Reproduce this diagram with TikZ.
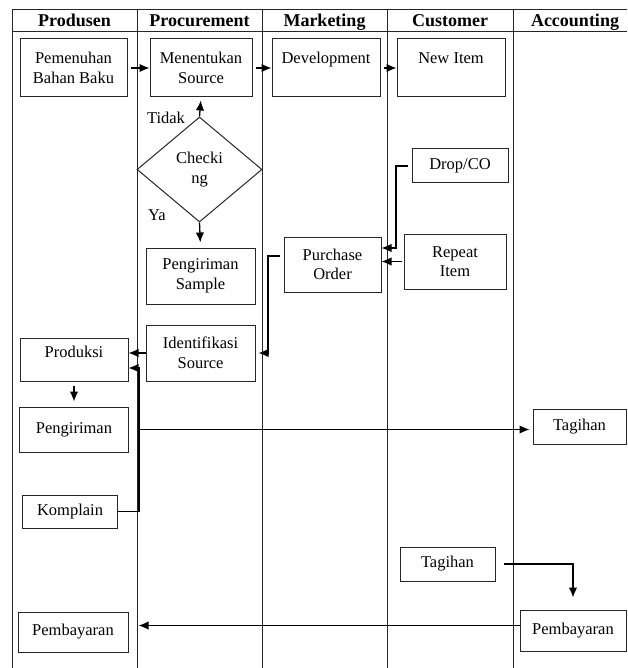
\documentclass[tikz,border=0pt]{standalone}
\usepackage{fontspec}
\setmainfont{Liberation Serif}
\usetikzlibrary{arrows.meta,shapes.geometric}
\newcommand\bodyfnt{\fontsize{16.5}{19.5}\selectfont}
\newcommand\headfnt{\fontsize{18}{20}\selectfont\bfseries}
\begin{document}
\begin{tikzpicture}[x=1pt,y=-1pt,
  lane/.style={draw=black!85, line width=0.9pt},
  pbox/.style 2 args={draw=black!85, line width=1pt, rectangle, inner sep=1pt,
     align=center, font=\bodyfnt, minimum width=#1, minimum height=#2},
  hdr/.style={font=\headfnt, inner sep=0pt, anchor=base},
  lbl/.style={font=\bodyfnt, inner sep=0pt},
  arr/.style={draw=black, line width=1.3pt, -{Latex[length=10pt,width=8.5pt]}}]
\useasboundingbox (0,0) rectangle (627,668);
% swimlane frame
\draw[lane] (12,9) -- (627,9);
\draw[lane] (12,31) -- (627,31);
\foreach \xx in {12,137,262,387,513} {\draw[lane] (\xx,9) -- (\xx,668);}
% headers
\node[hdr] (h1) at (74.5,26.5) {Produsen};
\node[hdr] (h2) at (199.5,26.5) {Procurement};
\node[hdr] (h3) at (324.5,26.5) {Marketing};
\node[hdr] (h4) at (450,26.5) {Customer};
\node[hdr] (h5) at (575,26.5) {Accounting};
% boxes
\node[pbox={107pt}{58pt}] (pem) at (73.5,68) {Pemenuhan\\Bahan Baku};
\node[pbox={102pt}{58pt}] (men) at (201,68) {Menentukan\\Source};
\node[pbox={108pt}{58pt}] (dev) at (326,68) {Development\\\mbox{}};
\node[pbox={108pt}{58pt}] (new) at (451,68) {New Item\\\mbox{}};
\node[draw=black!85, line width=1pt, diamond, minimum width=125pt, minimum height=105pt,
      inner sep=0pt, align=center, font=\bodyfnt] (chk) at (199.5,169.5) {Checki\\ng};
\node[lbl] (tidak) at (166,118) {Tidak};
\node[lbl] (ya) at (157,215) {Ya};
\node[pbox={109pt}{56pt}] (ps) at (200.5,276) {Pengiriman\\Sample};
\node[pbox={96pt}{34pt}] (drop) at (460,166) {Drop/CO};
\node[pbox={97pt}{55pt}] (po) at (332.5,264.5) {Purchase\\Order};
\node[pbox={102pt}{55pt}] (rep) at (455,261.5) {Repeat\\Item};
\node[pbox={109pt}{56pt}] (ids) at (200.5,353) {Identifikasi\\Source};
\node[pbox={108pt}{43pt}, text depth=15pt] (prod) at (74,359.5) {Produksi};
\node[pbox={109pt}{45pt}] (peng) at (74,429.5) {Pengiriman};
\node[pbox={93pt}{35pt}] (tag1) at (579.5,426.5) {Tagihan};
\node[pbox={95pt}{33pt}] (komp) at (70,511.5) {Komplain};
\node[pbox={95pt}{34pt}] (tag2) at (447.5,564) {Tagihan};
\node[pbox={110pt}{40pt}] (pay1) at (73,632) {Pembayaran};
\node[pbox={106pt}{41pt}] (pay2) at (573,630.5) {Pembayaran};
% connectors
\draw[arr, shorten <=3pt] (pem.east) -- (men.west);
\draw[arr, shorten <=3pt] (men.east) -- (dev.west);
\draw[arr, shorten <=3pt] (dev.east) -- (new.west);
\draw[arr, shorten >=3pt] (chk.north) -- (men.south);
\draw[arr, shorten >=5pt] (chk.south) -- (ps.north);
\coordinate (dj) at (396,248);
\draw[arr, shorten <=4pt] (drop.west) -| (dj) -- (dj -| po.east);
\draw[arr, shorten <=2pt] (rep.west) -- (rep.west -| po.east);
\coordinate (pj) at (268,256);
\draw[arr, shorten <=4pt, shorten >=3pt] (pj -| po.west) -- (pj) |- (ids.east);
\draw[arr] (ids.west) -- (ids.west -| prod.east);
\coordinate (kv) at (139,368);
\draw[arr] (komp.east) -| (kv) -- (kv -| prod.east);
\draw[arr, shorten <=4pt, shorten >=5pt] (prod.south) -- (prod.south |- peng.north);
\draw[arr, shorten >=3pt] (kv |- peng.east) -- (tag1.west |- peng.east);
\draw[arr] ([xshift=8pt]tag2.east) -| ([yshift=12pt]pay2.north);
\coordinate (bj) at ([yshift=5pt]pay2.west);
\draw[arr, shorten >=10pt] (bj) -- (bj -| pay1.east);
\end{tikzpicture}
\end{document}
